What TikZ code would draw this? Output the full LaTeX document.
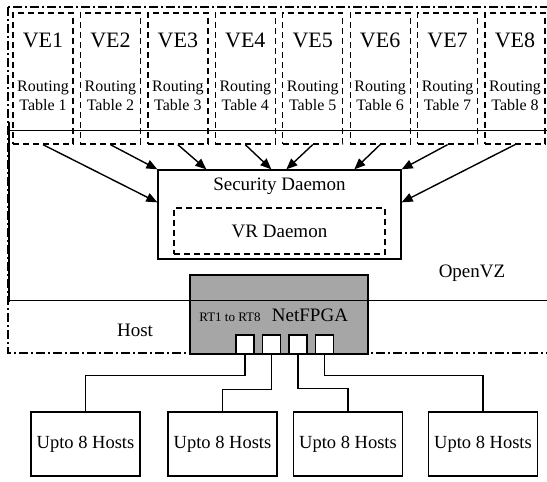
\documentclass[tikz,border=0pt]{standalone}
\usepackage{fontspec}
\setmainfont{Liberation Serif}
\usetikzlibrary{positioning, calc, arrows.meta}

\begin{document}
\begin{tikzpicture}[x=1pt, y=-1pt,
    frameline/.style={line width=1.4pt, dash pattern=on 9pt off 3pt on 2pt off 3pt},
    dashbox/.style={draw, line width=1.3pt, dash pattern=on 6pt off 4pt},
    vebox/.style={dashbox, minimum width=60pt, minimum height=131pt, inner sep=0pt},
    vetitle/.style={font=\fontsize{22}{24}\selectfont},
    rtlabel/.style={font=\fontsize{16}{19}\selectfont, align=center, inner sep=0pt},
    bigtext/.style={font=\fontsize{19}{22}\selectfont},
    hostbox/.style={draw, line width=1.3pt, minimum width=109pt, minimum height=64pt, inner sep=0pt, font=\fontsize{18.5}{22}\selectfont},
    portbox/.style={draw, fill=white, line width=1.3pt, minimum width=18pt, minimum height=19pt, inner sep=0pt},
    feed/.style={line width=1.4pt, -{Triangle[length=11pt, width=9pt]}},
    link/.style={line width=1.3pt}]
    \useasboundingbox (0,0) rectangle (547,482);
    % host frame
    \draw[frameline] (8,7) rectangle (570,353);
    \node[draw, fill=black!35, line width=1.3pt, minimum width=178pt, minimum height=79pt, inner sep=0pt] (fpga) at (279,314.5) {};
    % openvz area
    \draw[line width=0.9pt] (570,130) -- (9,130) -- (9,300) -- (570,300);
    \draw[line width=1.8pt] (9,122) -- (9,302);
    \foreach \i in {1,...,8} {
        \node[vebox] (ve\i) at ({43+67.43*(\i-1)}, 78.5) {};
        \node[vetitle] (vet\i) at ($(ve\i.north)+(0,28)$) {VE\i};
        \node[rtlabel] (rt\i) at ($(ve\i.north)+(0,83)$) {Routing\\Table \i};
    }
    \node[draw, line width=1.3pt, minimum width=243pt, minimum height=89pt, inner sep=0pt] (secd) at (279.5,214.5) {};
    \node[bigtext] (secdname) at ($(secd.north)+(0,17)$) {Security Daemon};
    \node[dashbox, bigtext, minimum width=211pt, minimum height=46pt, inner sep=0pt] (vrd) at (279.5,231) {VR Daemon};
    \draw[feed] (ve1.south) -- ($(secd.north west)+(0,33)$);
    \draw[feed] (ve2.south) -- (secd.north west);
    \draw[feed] (ve3.south) -- ($(secd.north west)+(49,0)$);
    \draw[feed] (ve4.south) -- ($(secd.north west)+(114,0)$);
    \draw[feed] (ve5.south) -- ($(secd.north west)+(129,0)$);
    \draw[feed] (ve6.south) -- ($(secd.north west)+(197,0)$);
    \draw[feed] (ve7.south) -- (secd.north east);
    \draw[feed] (ve8.south) -- ($(secd.north east)+(0,33)$);
    \node[bigtext] (openvz) at (472,273) {OpenVZ};
    \node[bigtext] (hostname) at (135,330) {Host};
    \node[font=\fontsize{13}{15}\selectfont] (rtrange) at (230,317) {RT1 to RT8};
    \node[bigtext] (fpganame) at (310,315) {NetFPGA};
    \foreach \i in {1,...,4}
        \node[portbox, anchor=south] (port\i) at ($(fpga.south)+({-34+26.5*(\i-1)},0)$) {};
    \node[hostbox] (hosts1) at (85.5,444) {Upto 8 Hosts};
    \node[hostbox] (hosts2) at (222.5,444) {Upto 8 Hosts};
    \node[hostbox] (hosts3) at (348,444) {Upto 8 Hosts};
    \node[hostbox] (hosts4) at (483,444) {Upto 8 Hosts};
    \draw[link] (port1.south) -- ++(0,21) -| (hosts1.north);
    \draw[link] (port2.south) -- ++(0,35) -| (hosts2.north);
    \draw[link] (port3.south) -- ++(0,34) -| (hosts3.north);
    \draw[link] (port4.south) -- ++(0,21) -| (hosts4.north);
\end{tikzpicture}
\end{document}
